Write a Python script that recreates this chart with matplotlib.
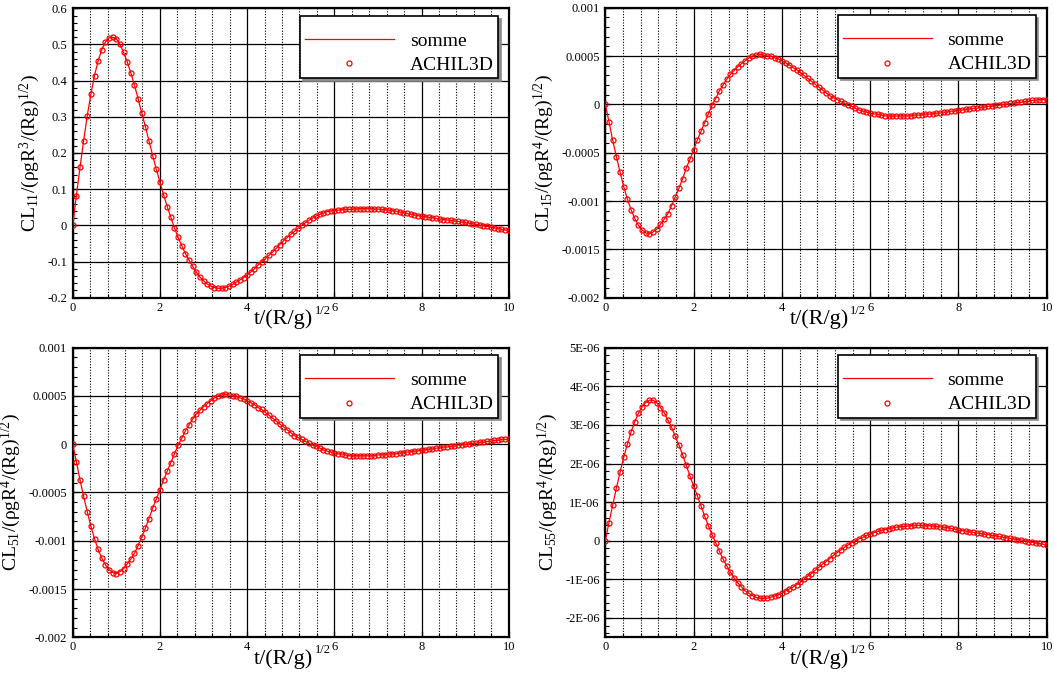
import numpy as np
import matplotlib
matplotlib.use("Agg")
import matplotlib.pyplot as plt
from matplotlib.ticker import MultipleLocator, FuncFormatter

plt.rcParams['font.family'] = ['Liberation Serif', 'DejaVu Serif']
plt.rcParams['mathtext.fontset'] = 'custom'
plt.rcParams['mathtext.rm'] = 'Liberation Serif'
plt.rcParams['mathtext.it'] = 'Liberation Serif:italic'
plt.rcParams['mathtext.bf'] = 'Liberation Serif:bold'

# time axis, one sample every 1/12 (marker spacing)
t = np.linspace(0, 10, 121)

cl11 = [0, 0.082, 0.160, 0.234, 0.303, 0.363, 0.414, 0.455, 0.486, 0.507, 0.518, 0.520,
        0.516, 0.500, 0.478, 0.452, 0.421, 0.387, 0.350, 0.310, 0.273, 0.233, 0.193, 0.155,
        0.119, 0.085, 0.052, 0.022, -0.007, -0.033, -0.056, -0.078, -0.096, -0.113, -0.129, -0.143,
        -0.153, -0.162, -0.168, -0.172, -0.174, -0.174, -0.172, -0.168, -0.163, -0.157, -0.151, -0.145,
        -0.137, -0.129, -0.120, -0.110, -0.101, -0.092, -0.083, -0.074, -0.064, -0.053, -0.043, -0.034,
        -0.025, -0.017, -0.008, 0.000, 0.007, 0.014, 0.020, 0.026, 0.030, 0.034, 0.038, 0.040,
        0.041, 0.042, 0.043, 0.044, 0.044, 0.045, 0.045, 0.046, 0.046, 0.046, 0.046, 0.045,
        0.045, 0.044, 0.043, 0.042, 0.040, 0.039, 0.037, 0.035, 0.033, 0.031, 0.029, 0.027,
        0.025, 0.024, 0.022, 0.021, 0.019, 0.018, 0.016, 0.015, 0.014, 0.012, 0.011, 0.009,
        0.008, 0.006, 0.004, 0.003, 0.001, -0.001, -0.003, -0.005, -0.007, -0.009, -0.011, -0.013,
        -0.014]

cl15 = [0, -0.00018, -0.00037, -0.00054, -0.00070, -0.00085, -0.00098, -0.00109, -0.00118, -0.00125, -0.00130, -0.00133,
        -0.00134, -0.00132, -0.00129, -0.00124, -0.00119, -0.00113, -0.00105, -0.00096, -0.00087, -0.00077, -0.00066, -0.00057,
        -0.00047, -0.00037, -0.00028, -0.00019, -0.00010, -0.00001, 0.00006, 0.00014, 0.00020, 0.00026, 0.00031, 0.00035,
        0.00039, 0.00042, 0.00045, 0.00048, 0.00050, 0.00051, 0.00052, 0.00051, 0.00050, 0.00050, 0.00048, 0.00047,
        0.00045, 0.00043, 0.00041, 0.00038, 0.00036, 0.00033, 0.00030, 0.00027, 0.00024, 0.00021, 0.00018, 0.00015,
        0.00012, 0.00009, 0.00007, 0.00005, 0.00003, 0.00001, -0.00001, -0.00002, -0.00004, -0.00006, -0.00007, -0.00008,
        -0.00009, -0.00010, -0.00010, -0.00011, -0.00012, -0.00012, -0.00012, -0.00012, -0.00012, -0.00012, -0.00012, -0.00012,
        -0.00011, -0.00011, -0.00011, -0.00010, -0.00010, -0.00010, -0.00009, -0.00009, -0.00008, -0.00008, -0.00007, -0.00007,
        -0.00006, -0.00006, -0.00005, -0.00005, -0.00004, -0.00004, -0.00003, -0.00003, -0.00002, -0.00002, -0.00001, -0.00001,
        0.00000, 0.00000, 0.00001, 0.00001, 0.00002, 0.00002, 0.00003, 0.00003, 0.00004, 0.00004, 0.00005, 0.00005,
        0.00005]

# CL51 is drawn identical to CL15 in the picture
cl51 = list(cl15)

# CL55 in units of 1E-06
cl55 = [0, 0.47, 0.92, 1.36, 1.77, 2.16, 2.50, 2.82, 3.08, 3.30, 3.47, 3.58,
        3.64, 3.64, 3.57, 3.45, 3.32, 3.13, 2.94, 2.71, 2.48, 2.23, 1.95, 1.68,
        1.42, 1.17, 0.91, 0.64, 0.39, 0.16, -0.05, -0.27, -0.47, -0.65, -0.81, -0.96,
        -1.09, -1.19, -1.30, -1.36, -1.42, -1.47, -1.49, -1.49, -1.49, -1.46, -1.43, -1.40,
        -1.36, -1.30, -1.25, -1.20, -1.14, -1.08, -1.00, -0.92, -0.85, -0.77, -0.69, -0.61,
        -0.54, -0.46, -0.38, -0.31, -0.24, -0.17, -0.11, -0.05, 0.00, 0.05, 0.09, 0.14,
        0.17, 0.21, 0.24, 0.27, 0.29, 0.31, 0.33, 0.35, 0.36, 0.37, 0.38, 0.39,
        0.40, 0.40, 0.40, 0.39, 0.39, 0.38, 0.37, 0.36, 0.35, 0.34, 0.32, 0.30,
        0.28, 0.26, 0.25, 0.23, 0.22, 0.20, 0.19, 0.17, 0.16, 0.14, 0.13, 0.11,
        0.09, 0.08, 0.06, 0.05, 0.03, 0.02, 0.00, -0.02, -0.04, -0.06, -0.07, -0.09,
        -0.11]
cl55 = [v * 1e-6 for v in cl55]

legend_labels = ['somme', 'ACHIL3D']
xlabel = 't/(R/g)'
xlabel_sup = '1/2'


def fmt_plain(v, pos):
    if abs(v) < 1e-12:
        return '0'
    return '%g' % v


def fmt_exp(v, pos):
    if abs(v) < 1e-15:
        return '0'
    return '%.0E' % v


panels = [
    (cl11, r'CL$_{11}$/(ρgR$^{3}$/(Rg)$^{1/2}$)', (-0.2, 0.6), 0.1, 0.02, fmt_plain,
     [0.069, 0.559, 0.4137, 0.4287]),
    (cl15, r'CL$_{15}$/(ρgR$^{4}$/(Rg)$^{1/2}$)', (-0.002, 0.001), 0.0005, 0.0001, fmt_plain,
     [0.5743, 0.559, 0.4188, 0.4296]),
    (cl51, r'CL$_{51}$/(ρgR$^{4}$/(Rg)$^{1/2}$)', (-0.002, 0.001), 0.0005, 0.0001, fmt_plain,
     [0.069, 0.0559, 0.4137, 0.429]),
    (cl55, r'CL$_{55}$/(ρgR$^{4}$/(Rg)$^{1/2}$)', (-2.5e-6, 5e-6), 1e-6, 2e-7, fmt_exp,
     [0.5743, 0.0559, 0.4188, 0.429]),
]

fig = plt.figure(figsize=(10.54, 6.75), dpi=100)

for vals, ylab, ylim, ymaj, ymin, fmt, rect in panels:
    ax = fig.add_axes(rect)
    ax.plot(t, vals, color='red', lw=0.9, label=legend_labels[0], zorder=3)
    ax.plot(t, vals, linestyle='none', marker='o', ms=3.6, mfc='none', mec='red', mew=0.9,
            label=legend_labels[1], zorder=4)
    ax.set_xlim(0, 10)
    ax.set_ylim(*ylim)
    ax.xaxis.set_major_locator(MultipleLocator(2))
    ax.xaxis.set_minor_locator(MultipleLocator(0.4))
    ax.yaxis.set_major_locator(MultipleLocator(ymaj))
    ax.yaxis.set_minor_locator(MultipleLocator(ymin))
    ax.yaxis.set_major_formatter(FuncFormatter(fmt))
    ax.set_axisbelow(True)
    ax.grid(which='major', color='black', lw=0.9)
    ax.xaxis.grid(which='minor', color='black', lw=0.8, linestyle=(0, (1, 1.5)))
    ax.tick_params(which='both', direction='in', labelsize=9, top=False, right=False)
    ax.tick_params(which='major', length=4, width=0.9, pad=4)
    ax.tick_params(which='minor', length=3, width=0.8)
    ax.tick_params(axis='x', pad=3)
    for sp in ax.spines.values():
        sp.set_linewidth(1.6)
    ax.set_xlabel(xlabel, fontsize=16, labelpad=-3)
    ax.xaxis.label.set_x(0.484)
    ax.annotate(xlabel_sup, xy=(1.0, 1.0), xycoords=ax.xaxis.label, xytext=(1, 3.5),
                textcoords='offset points', ha='left', va='top', fontsize=9)
    ax.set_ylabel(ylab, fontsize=14, labelpad=4)
    leg = ax.legend(loc='upper right', bbox_to_anchor=(0.975, 0.974), borderaxespad=0,
                    fontsize=14, handlelength=4.6, handletextpad=0.8, borderpad=0.22,
                    labelspacing=0.35, numpoints=1, fancybox=False, framealpha=1,
                    edgecolor='black', shadow={'color': '0.55', 'alpha': 1.0},
                    title=' ', title_fontsize=4)
    leg.get_frame().set_linewidth(1.2)

fig.savefig('out.png', dpi=100)
